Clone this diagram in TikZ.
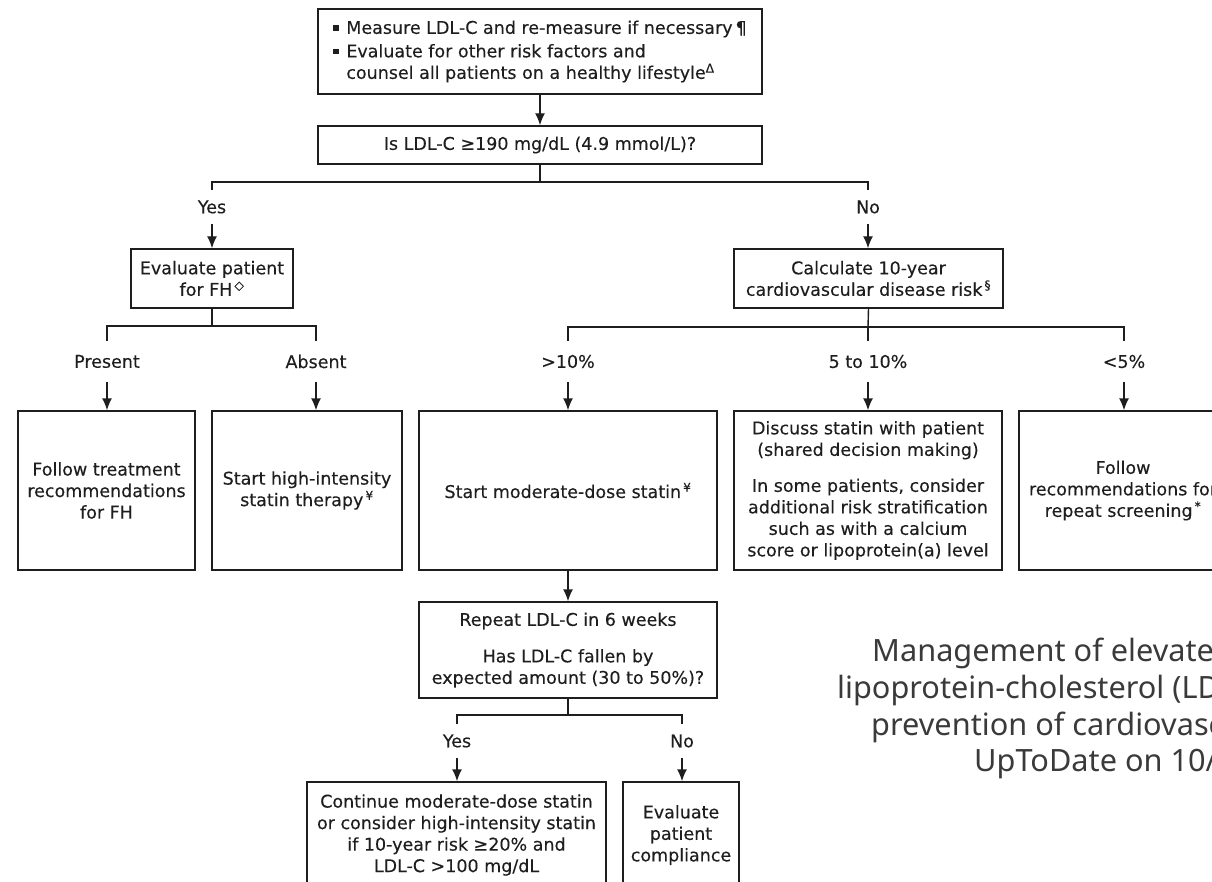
\documentclass[tikz,border=0pt]{standalone}
\usepackage{fontspec}
\setmainfont{DejaVu Sans}[FakeBold=0.25]
\newfontfamily\capfont{Noto Sans}
\usetikzlibrary{arrows.meta}

\definecolor{ink}{HTML}{1E1E1E}
\definecolor{capgray}{HTML}{3A3A3A}
\newcommand{\sqb}{\makebox[13pt][l]{\rule[3pt]{5.5pt}{5.5pt}}}

\tikzset{
  box/.style={draw=ink, line width=1.4pt, align=center, inner sep=0pt, text=ink,
    font=\fontsize{17.5}{21.5}\selectfont},
  lbl/.style={inner sep=0pt, minimum height=34pt, text=ink,
    font=\fontsize{17.5}{20}\selectfont},
  ln/.style={draw=ink, line width=1.4pt},
  arr/.style={ln, -{Latex[length=12pt,width=10pt]}},
  captxt/.style={anchor=base west, inner sep=0pt, text=capgray,
    font=\capfont\fontsize{30.7}{36}\selectfont}
}

\begin{document}
\begin{tikzpicture}[x=1pt, y=-1pt]
    % page frame
    \useasboundingbox (0,0) rectangle (1212,882);
    \clip (0,0) rectangle (1212,882);

    % first steps
    \node[box, minimum width=444pt, minimum height=85pt, align=left] (measure) at (540,51.5)
      {\sqb Measure LDL-C and re-measure if necessary\,¶\\[2pt]
       \sqb Evaluate for other risk factors and\\
       \hspace*{13pt}counsel all patients on a healthy lifestyle\textsuperscript{Δ}};
    \node[box, minimum width=444pt, minimum height=38pt] (ldl) at (540,145)
      {Is LDL-C ≥190 mg/dL (4.9 mmol/L)?};
    \draw[arr] (measure) -- (ldl);

    % yes / no split
    \node[lbl] (yes) at (212,207) {Yes};
    \node[lbl] (no) at (868,207) {No};
    \coordinate (ldlj) at (540,182);
    \draw[ln] (ldl.south) -- (ldlj);
    \draw[ln] (yes.north) |- (ldlj) -| (no.north);

    \node[box, minimum width=162pt, minimum height=59pt] (evalfh) at (212,278.5)
      {Evaluate patient\\for FH\textsuperscript{\,◇}};
    \node[box, minimum width=269pt, minimum height=59pt] (calc) at (868.5,278.5)
      {Calculate 10-year\\cardiovascular disease risk\textsuperscript{\,§}};
    \draw[arr] (yes.south) -- (evalfh.north -| yes.south);
    \draw[arr] (no.south) -- (calc.north -| no.south);

    % FH branch
    \node[lbl, minimum height=41pt] (present) at (107,361.5) {Present};
    \node[lbl, minimum height=41pt] (absent) at (316,361.5) {Absent};
    \coordinate (fhj) at (212,326);
    \draw[ln] (evalfh.south) -- (fhj);
    \draw[ln] (present.north) |- (fhj) -| (absent.north);

    \node[box, minimum width=177pt, minimum height=159pt] (follow) at (106.5,490.5)
      {Follow treatment\\recommendations\\for FH};
    \node[box, minimum width=190pt, minimum height=159pt] (high) at (307,490.5)
      {Start high-intensity\\statin therapy\textsuperscript{\,¥}};
    \draw[arr] (present.south) -- (follow.north -| present.south);
    \draw[arr] (absent.south) -- (high.north -| absent.south);

    % risk branch
    \node[lbl, minimum height=41pt] (gt) at (568,361.5) {>10\%};
    \node[lbl, minimum height=41pt] (mid) at (868,361.5) {5 to 10\%};
    \node[lbl, minimum height=41pt] (lt) at (1124,361.5) {<5\%};
    \coordinate (riskj) at (868,327);
    \draw[ln] (calc.south) -- (riskj);
    \draw[ln] (gt.north) |- (riskj) -| (lt.north);
    \draw[ln] (riskj) -- (mid.north);

    \node[box, minimum width=298pt, minimum height=159pt] (moder) at (568,490.5)
      {Start moderate-dose statin\textsuperscript{\,¥}};
    \node[box, minimum width=268pt, minimum height=159pt] (discuss) at (868,490.5)
      {Discuss statin with patient\\(shared decision making)\\[14.5pt]
       In some patients, consider\\additional risk stratification\\
       such as with a calcium\\score or lipoprotein(a) level};
    \node[box, minimum width=208pt, minimum height=159pt] (screen) at (1123,490.5)
      {Follow\\recommendations for\\repeat screening\textsuperscript{\,*}};
    \draw[arr] (gt.south) -- (moder.north -| gt.south);
    \draw[arr] (mid.south) -- (discuss.north -| mid.south);
    \draw[arr] (lt.south) -- (screen.north -| lt.south);

    % follow-up
    \node[box, minimum width=298pt, minimum height=96pt] (repeat) at (568,650)
      {Repeat LDL-C in 6 weeks\\[15pt]
       Has LDL-C fallen by\\expected amount (30 to 50\%)?};
    \draw[arr] (moder.south) -- (repeat.north);

    \node[lbl] (yes2) at (457,741) {Yes};
    \node[lbl] (no2) at (682,741) {No};
    \coordinate (repj) at (568,715);
    \draw[ln] (repeat.south) -- (repj);
    \draw[ln] (yes2.north) |- (repj) -| (no2.north);

    \node[box, minimum width=299pt, minimum height=106pt] (cont) at (456.5,835)
      {Continue moderate-dose statin\\or consider high-intensity statin\\
       if 10-year risk ≥20\% and\\LDL-C >100 mg/dL};
    \node[box, minimum width=116pt, minimum height=106pt] (compl) at (681,835)
      {Evaluate\\patient\\compliance};
    \draw[arr] (yes2.south) -- (cont.north -| yes2.south);
    \draw[arr] (no2.south) -- (compl.north -| no2.south);

    % caption
    \node[captxt] (cap1) at (872,661.5) {Management of elevated};
    \node[captxt] (cap2) at (837,698) {lipoprotein-cholesterol (LDL-C)};
    \node[captxt] (cap3) at (871,735) {prevention of cardiovascular};
    \node[captxt] (cap4) at (974,771.5) {UpToDate on 10/};
\end{tikzpicture}
\end{document}
